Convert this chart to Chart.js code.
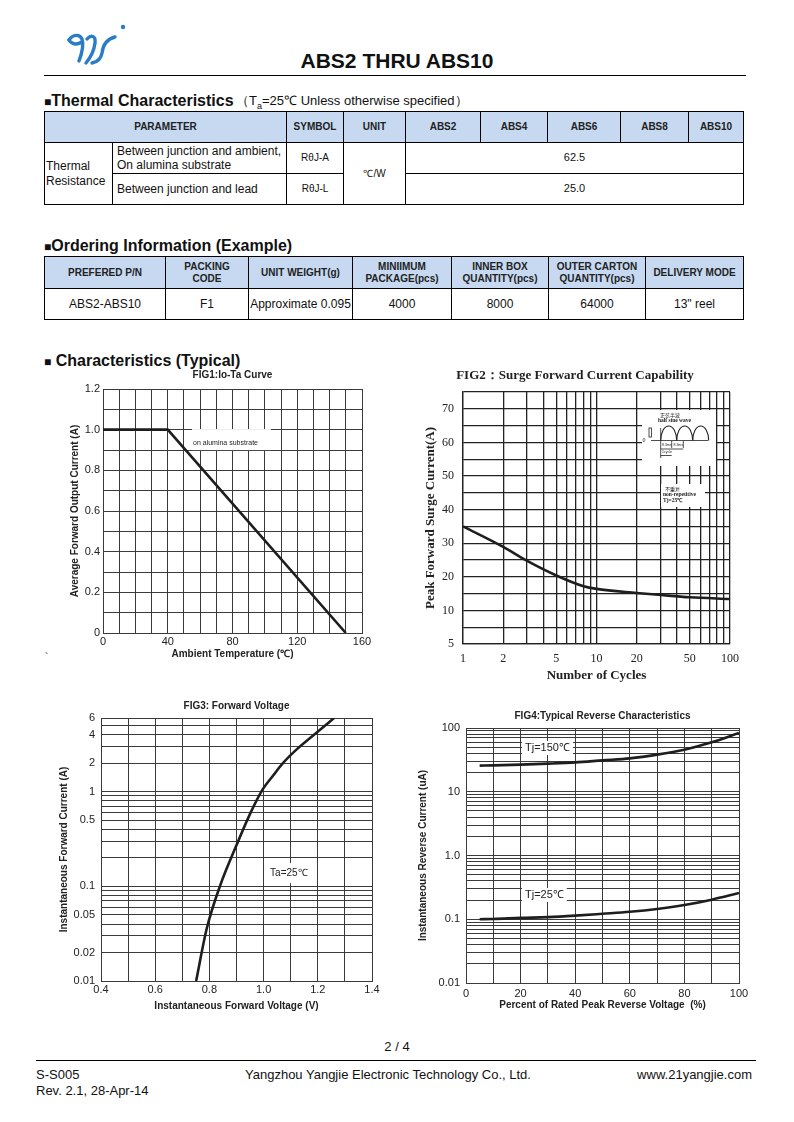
<!DOCTYPE html>
<html>
<head>
<meta charset="utf-8">
<script src="https://cdn.jsdelivr.net/npm/chart.js@4.4.1/dist/chart.umd.min.js"></script>
<style>
body{margin:0;background:#fff;font-family:"Liberation Sans",Arial,sans-serif;color:#111;}
#page{position:relative;width:794px;height:1122px;overflow:hidden;background:#fff;}
.abs{position:absolute;}
.t{position:absolute;white-space:nowrap;line-height:1.15;}
.h{font-size:16px;font-weight:bold;}
.sq{font-size:12px;}
.hr{position:absolute;height:0;border-top:1px solid #000;}
table{position:absolute;border-collapse:collapse;table-layout:fixed;}
th,td{border:1px solid #000;padding:0;text-align:center;vertical-align:middle;line-height:1.2;}
th{background:#c6d9f1;font-size:10px;font-weight:bold;color:#222;}
td{font-size:11px;}
td.l{text-align:left;font-size:12px;padding-left:1px;}
td.l2{text-align:left;font-size:12px;padding-left:4px;}
td.sym{font-size:10px;}
</style>
</head>
<body>
<div id="page">

<svg class="abs" style="left:55px;top:15px" width="80" height="55">
<g fill="none" stroke="#2a7cc7" stroke-width="3.4" stroke-linecap="round">
<path d="M14 25 C18 19 25 19 27 24 C29 30 27 38 24 46"/>
<path d="M14 25 C17 30 22 30 27 27"/>
<path d="M32 24 C36 19 41 21 40 28 C39 36 36 42 31 48"/>
<path d="M60 22 C52 24 48 30 47 38 C46 44 42 47 37 48"/>
</g>
<circle cx="68" cy="12" r="2.2" fill="#2a7cc7"/>
</svg>
<div class="t" style="left:0;width:794px;text-align:center;top:49px;font-size:21px;font-weight:bold">ABS2 THRU ABS10</div>
<div class="hr" style="left:44px;top:75px;width:702px"></div>

<div class="t h" style="left:44px;top:92px"><span class="sq">■</span>Thermal Characteristics</div>
<div class="t" style="left:236px;top:94px;font-size:13px">（T<sub style="font-size:9px">a</sub>=25℃ Unless otherwise specified）</div>

<table style="left:44px;top:111px;width:699px">
<colgroup><col style="width:68px"><col style="width:174px"><col style="width:57px"><col style="width:62px"><col style="width:75px"><col style="width:67px"><col style="width:73px"><col style="width:68px"><col style="width:55px"></colgroup>
<tr style="height:31px"><th colspan="2">PARAMETER</th><th>SYMBOL</th><th>UNIT</th><th>ABS2</th><th>ABS4</th><th>ABS6</th><th>ABS8</th><th>ABS10</th></tr>
<tr style="height:31px"><td rowspan="2" class="l">Thermal<br>Resistance</td><td class="l2">Between junction and ambient,<br>On alumina substrate</td><td class="sym">RθJ-A</td><td rowspan="2" class="sym">℃/W</td><td colspan="5">62.5</td></tr>
<tr style="height:31px"><td class="l2">Between junction and lead</td><td class="sym">RθJ-L</td><td colspan="5">25.0</td></tr>
</table>

<div class="t h" style="left:44px;top:237px"><span class="sq">■</span>Ordering Information (Example)</div>
<table style="left:44px;top:256px;width:699px">
<colgroup><col style="width:121px"><col style="width:83px"><col style="width:104px"><col style="width:99px"><col style="width:97px"><col style="width:97px"><col style="width:98px"></colgroup>
<tr style="height:32px"><th>PREFERED P/N</th><th>PACKING<br>CODE</th><th>UNIT WEIGHT(g)</th><th>MINIIMUM<br>PACKAGE(pcs)</th><th>INNER BOX<br>QUANTITY(pcs)</th><th>OUTER CARTON<br>QUANTITY(pcs)</th><th>DELIVERY MODE</th></tr>
<tr style="height:31px"><td style="font-size:12px">ABS2-ABS10</td><td style="font-size:12px">F1</td><td style="font-size:12px">Approximate 0.095</td><td style="font-size:12px">4000</td><td style="font-size:12px">8000</td><td style="font-size:12px">64000</td><td style="font-size:12px">13" reel</td></tr>
</table>

<div class="t h" style="left:44px;top:352px"><span class="sq">■</span> Characteristics (Typical)</div>
<div class="t" style="left:45px;top:652px;font-size:10px">`</div>

<div class="abs" style="left:40px;top:366px"><canvas id="fig1" width="340" height="300"></canvas></div>
<div class="abs" style="left:420px;top:366px"><canvas id="fig2" width="369" height="324"></canvas></div>
<div class="abs" style="left:40px;top:696px"><canvas id="fig3" width="350" height="322"></canvas></div>
<div class="abs" style="left:405px;top:704px"><canvas id="fig4" width="350" height="312"></canvas></div>

<div class="t" style="left:0;width:794px;text-align:center;top:1040px;font-size:13px">2 / 4</div>
<div class="hr" style="left:36px;top:1060px;width:720px"></div>
<div class="t" style="left:36px;top:1068px;font-size:13px">S-S005</div>
<div class="t" style="left:36px;top:1084px;font-size:13px">Rev. 2.1, 28-Apr-14</div>
<div class="t" style="left:245px;top:1068px;font-size:13px">Yangzhou Yangjie Electronic Technology Co., Ltd.</div>
<div class="t" style="right:42px;top:1068px;font-size:13px">www.21yangjie.com</div>
</div>

<script>
// ---------- DATA ----------
const fig1Temp = [0, 40, 150];
const fig1Current = [1.0, 1.0, 0];
const fig1XLabels = [0, 40, 80, 120, 160];

const fig2Cycles = [1, 2, 3, 5, 8, 10, 20, 30, 50, 100];
const fig2Current = [35, 28.9, 24.8, 20.4, 17.2, 16.4, 15.2, 14.6, 13.9, 13.4];
const fig2CycleLabels = [1, 2, 5, 10, 20, 50, 100];
const fig2YTickValues = [0, 10, 20, 30, 40, 50, 60, 70];
const fig2YTickText = ["5", "10", "20", "30", "40", "50", "60", "70"];

const fig3Voltage = [0.751, 0.79, 0.839, 0.901, 0.95, 0.996, 1.036, 1.072, 1.121, 1.195, 1.26];
const fig3Current = [0.01, 0.0356, 0.1005, 0.276, 0.582, 1.05, 1.49, 2.01, 2.78, 4.2, 6.0];
const fig3YLabels = [0.01, 0.02, 0.05, 0.1, 0.5, 1, 2, 4, 6];

const fig4Percent = [5, 10, 20, 30, 40, 50, 60, 70, 80, 90, 100];
const fig4Tj150 = [25.7, 25.9, 26.6, 27.6, 28.9, 31.1, 33.4, 38.2, 45.7, 59.6, 83.5];
const fig4Tj25 = [0.100, 0.101, 0.105, 0.108, 0.114, 0.122, 0.131, 0.145, 0.167, 0.203, 0.258];
const fig4YTickValues = [0.01, 0.1, 1, 10, 100];
const fig4YTickText = ["0.01", "0.1", "1.0", "10", "100"];

Chart.defaults.font.family = "Liberation Sans";
Chart.defaults.color = "#222";

// ---------- HELPERS ----------
function logGrid(min, max){
  const out = [];
  for(let p = Math.floor(Math.log10(min)); p <= Math.ceil(Math.log10(max)); p++){
    for(let m = 1; m < 10; m++){
      const v = Number((m * Math.pow(10, p)).toPrecision(3));
      if(v >= min - 1e-12 && v <= max + 1e-9) out.push(v);
    }
  }
  return out;
}

function axis(o){
  const col = o.gridColor || "#3a3a3a";
  return {
    type: o.type || "linear",
    min: o.min,
    max: o.max,
    afterFit: s => { if(s.isHorizontal()) s.height = o.size; else s.width = o.size; },
    afterBuildTicks: o.grid ? s => { s.ticks = o.grid.map(v => ({value: v})); } : undefined,
    ticks: {stepSize: o.step, autoSkip: false, maxRotation: 0, padding: o.pad,
      font: o.tickFont || {size: 11}, color: "#222", callback: o.label},
    grid: {color: col, lineWidth: o.lw || 1, drawTicks: false},
    border: {color: col, width: o.lw || 1},
    title: {display: true, text: o.title, color: "#222",
      font: o.titleFont || {size: 10, weight: "bold"}, padding: o.titlePad}
  };
}

function curve(xs, ys, smooth){
  return {
    data: xs.map((x, i) => ({x: x, y: ys[i]})),
    borderColor: "#1e1e1e", borderWidth: 2.6, pointRadius: 0, fill: false,
    tension: 0, cubicInterpolationMode: smooth ? "monotone" : "default"
  };
}

function options(o){
  return {
    responsive: false, animation: false, devicePixelRatio: 1,
    layout: {padding: o.padding},
    plugins: {
      legend: {display: false}, tooltip: {enabled: false},
      title: {display: true, text: o.title, fullSize: !!o.titleFull, color: "#222",
        font: o.titleFont || {size: 10, weight: "bold"}, padding: o.titlePad}
    },
    scales: {x: o.x, y: o.y}
  };
}

// white-backed labels placed in data units
function notes(list){
  return {id: "notes", beforeDatasetsDraw(chart){
    const c = chart.ctx, sx = chart.scales.x, sy = chart.scales.y;
    c.save();
    list.forEach(n => {
      const x = sx.getPixelForValue(n.x), y = sy.getPixelForValue(n.y);
      c.font = n.font;
      const w = c.measureText(n.text).width;
      c.fillStyle = "#fff";
      c.fillRect(x - n.pad[0], y - n.pad[1], w + n.pad[0] + n.pad[2], n.pad[1] + n.pad[3]);
      c.fillStyle = "#222";
      c.textBaseline = "middle";
      c.fillText(n.text, x, y);
    });
    c.restore();
  }};
}

// ---------- FIG1 ----------
new Chart(document.getElementById("fig1"), {
  type: "line",
  data: {datasets: [curve(fig1Temp, fig1Current, false)]},
  options: options({
    title: "FIG1:Io-Ta Curve", titlePad: {top: 3, bottom: 8},
    padding: {left: 0, top: 0, right: 18, bottom: 0},
    x: axis({min: 0, max: 160, step: 10, size: 33, pad: 2,
      label: v => fig1XLabels.includes(v) ? String(v) : "",
      title: "Ambient Temperature (℃)", titlePad: {top: 0, bottom: 6}}),
    y: axis({min: 0, max: 1.2, step: 0.1, size: 63, pad: 3,
      label: v => { const k = Math.round(v * 10); return k % 2 ? "" : (k === 0 ? "0" : (k / 10).toFixed(1)); },
      title: "Average Forward Output Current (A)", titlePad: {top: 29, bottom: 0}})
  }),
  plugins: [notes([{x: 55.6, y: 0.934, text: "on alumina substrate", font: "7px Liberation Sans", pad: [1, 14, 13, 7]}])]
});

// ---------- FIG2 ----------
const surgeInset = {id: "surgeInset", beforeDatasetsDraw(chart){
  const c = chart.ctx, a = chart.chartArea;
  const x0 = a.left + 179, y0 = a.top + 18;
  c.save();
  c.fillStyle = "#fff";
  c.fillRect(x0, y0, 74, 56);
  c.fillRect(x0 + 19, y0 + 74, 44, 23);
  c.strokeStyle = "#222";
  c.fillStyle = "#222";
  c.lineWidth = 0.8;
  c.beginPath();
  c.moveTo(x0 + 9, y0 + 30.5); c.lineTo(x0 + 66, y0 + 30.5);
  c.moveTo(x0 + 18.7, y0 + 18); c.lineTo(x0 + 18.7, y0 + 48);
  c.moveTo(x0 + 29.7, y0 + 31); c.lineTo(x0 + 29.7, y0 + 38);
  c.moveTo(x0 + 41.3, y0 + 31); c.lineTo(x0 + 41.3, y0 + 38);
  c.moveTo(x0 + 18.7, y0 + 39); c.lineTo(x0 + 41.3, y0 + 39);
  c.moveTo(x0 + 18.7, y0 + 45.5); c.lineTo(x0 + 29.7, y0 + 45.5);
  c.stroke();
  c.strokeRect(x0 + 7, y0 + 18, 2.5, 9);
  c.lineWidth = 1.1;
  [26.7, 42.7, 58.7].forEach(cx => {
    c.beginPath();
    c.ellipse(x0 + cx, y0 + 30.5, 8, 14.5, 0, Math.PI, 2 * Math.PI);
    c.stroke();
  });
  c.textBaseline = "middle";
  c.font = "5px Noto Sans CJK SC";
  c.fillText("正弦半波", x0 + 18, y0 + 5);
  c.fillText("不重复", x0 + 23, y0 + 79);
  c.font = "bold 5.5px Liberation Serif";
  c.fillText("half sine wave", x0 + 16, y0 + 11);
  c.fillText("non-repetitive", x0 + 21, y0 + 85);
  c.fillText("Tj=25℃", x0 + 21, y0 + 90.5);
  c.font = "6px Liberation Serif";
  c.fillText("0", x0 + 0.5, y0 + 30.5);
  c.font = "3.5px Liberation Sans";
  c.fillText("8.3ms", x0 + 20, y0 + 35);
  c.fillText("8.3ms", x0 + 31.5, y0 + 35);
  c.fillText("1cycle", x0 + 20, y0 + 42);
  c.restore();
}};

const serif = "Liberation Serif";
new Chart(document.getElementById("fig2"), {
  type: "line",
  data: {datasets: [curve(fig2Cycles, fig2Current, true)]},
  options: options({
    title: "FIG2：Surge Forward Current Capability", titleFull: true,
    titleFont: {family: serif, size: 13, weight: "bold"}, titlePad: {top: 2, bottom: 8.4},
    padding: {left: 0, top: 0, right: 59, bottom: 0},
    x: axis({type: "logarithmic", min: 1, max: 100, grid: logGrid(1, 100), size: 46, pad: 7.8,
      gridColor: "#222", lw: 1.3, tickFont: {family: serif, size: 12},
      label: v => fig2CycleLabels.includes(v) ? String(v) : "",
      title: "Number of Cycles", titleFont: {family: serif, size: 13, weight: "bold"},
      titlePad: {top: 0, bottom: 6.2}}),
    y: axis({min: 0, max: 75, step: 5, size: 43, pad: 9,
      gridColor: "#222", lw: 1.3, tickFont: {family: serif, size: 12},
      label: v => { const i = fig2YTickValues.indexOf(v); return i < 0 ? "" : fig2YTickText[i]; },
      title: "Peak Forward Surge Current(A)", titleFont: {family: serif, size: 13, weight: "bold"},
      titlePad: {top: 3.2, bottom: 0}})
  }),
  plugins: [surgeInset]
});

// ---------- FIG3 ----------
new Chart(document.getElementById("fig3"), {
  type: "line",
  data: {datasets: [curve(fig3Voltage, fig3Current, true)]},
  options: options({
    title: "FIG3: Forward Voltage", titlePad: {top: 4.7, bottom: 5.3},
    padding: {left: 0, top: 0, right: 18, bottom: 0},
    x: axis({min: 0.4, max: 1.4, step: 0.1, size: 37, pad: 2.4,
      label: v => { const k = Math.round(v * 10); return k % 2 ? "" : (k / 10).toFixed(1); },
      title: "Instantaneous Forward Voltage (V)", titlePad: {top: 0, bottom: 5.3}}),
    y: axis({type: "logarithmic", min: 0.01, max: 6, grid: logGrid(0.01, 6), size: 61, pad: 6,
      label: v => fig3YLabels.includes(v) ? String(v) : "",
      title: "Instantaneous Forward Current (A)", titlePad: {top: 18, bottom: 0}})
  }),
  plugins: [notes([{x: 1.024, y: 0.138, text: "Ta=25℃", font: "10px Liberation Sans", pad: [5, 10, 5, 10]}])]
});

// ---------- FIG4 ----------
new Chart(document.getElementById("fig4"), {
  type: "line",
  data: {datasets: [curve(fig4Percent, fig4Tj150, true), curve(fig4Percent, fig4Tj25, true)]},
  options: options({
    title: "FIG4:Typical Reverse Characteristics", titlePad: {top: 6, bottom: 6},
    padding: {left: 0, top: 0, right: 16, bottom: 0},
    x: axis({min: 0, max: 100, step: 10, size: 33, pad: 4.4,
      label: v => v % 20 ? "" : String(v),
      title: "Percent of Rated Peak Reverse Voltage  (%)", titlePad: {top: 0, bottom: 5}}),
    y: axis({type: "logarithmic", min: 0.01, max: 100, grid: logGrid(0.01, 100), size: 61, pad: 6,
      label: v => { const i = fig4YTickValues.indexOf(v); return i < 0 ? "" : fig4YTickText[i]; },
      title: "Instantaneous Reverse Current (uA)", titlePad: {top: 12, bottom: 0}})
  }),
  plugins: [notes([
    {x: 21.6, y: 48.6, text: "Tj=150℃", font: "11px Liberation Sans", pad: [3, 7, 3, 7]},
    {x: 21.6, y: 0.24, text: "Tj=25℃", font: "11px Liberation Sans", pad: [3, 7, 3, 7]}
  ])]
});
</script>
</body>
</html>
